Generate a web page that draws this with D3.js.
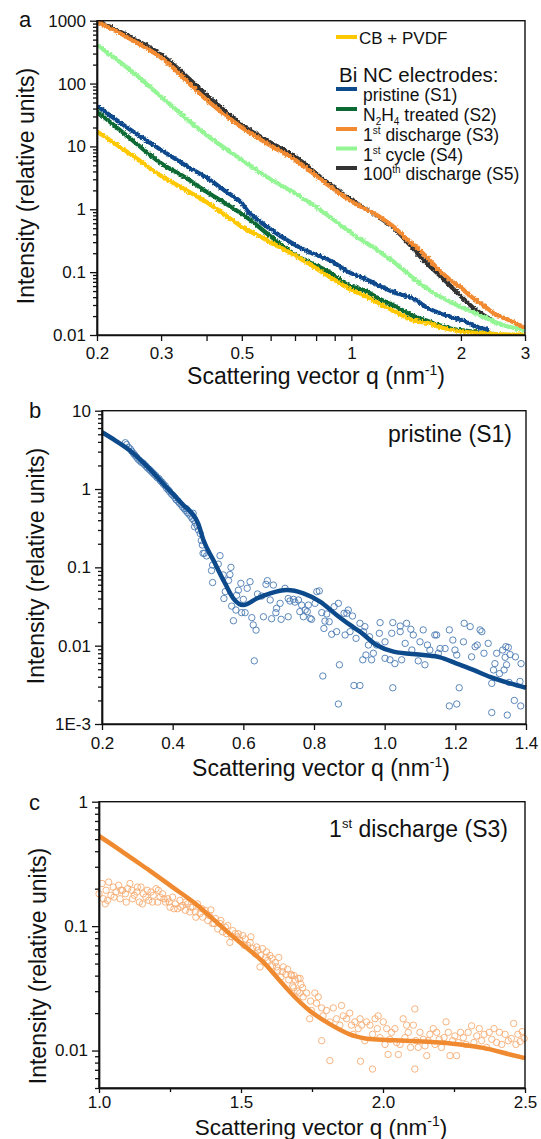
<!DOCTYPE html>
<html>
<head>
<meta charset="utf-8">
<script src="https://cdn.jsdelivr.net/npm/d3@7"></script>
<style>
body { margin: 0; background: #fff; }
svg text { font-family: "Liberation Sans", Arial, sans-serif; fill: #111; }
</style>
</head>
<body>
<svg id="chart" width="541" height="1139"></svg>
<script>
// ---- panel a: SAXS curves (q in nm^-1, intensity in relative units) ----
const qCB = [0.2,0.25,0.3,0.34,0.4,0.5,0.6,0.7,0.8,0.87,1.0,1.08,1.2,1.33,1.48,1.64,1.8,2.03,2.3,2.6,3.0];
const iCB = [17.3,7.2,3.4,2.25,1.3,0.53,0.3,0.185,0.115,0.085,0.052,0.043,0.031,0.023,0.017,0.0153,0.0128,0.0113,0.0106,0.0102,0.0101];
const qS1 = [0.2,0.25,0.3,0.35,0.41,0.45,0.5,0.52,0.55,0.6,0.65,0.71,0.78,0.87,0.99,1.08,1.2,1.33,1.48,1.64,1.8,2.03,2.2,2.4];
const iS1 = [44,17.5,8.8,5.0,2.9,1.95,1.25,0.92,0.7,0.48,0.35,0.26,0.2,0.156,0.098,0.08,0.06,0.046,0.038,0.026,0.021,0.0168,0.0138,0.0118];
const qS2 = [0.2,0.25,0.3,0.35,0.4,0.45,0.52,0.6,0.71,0.87,0.99,1.08,1.2,1.33,1.48,1.64,1.8,1.94,2.1,2.3,2.5];
const iS2 = [36,12.6,5.4,3.2,1.9,1.25,0.72,0.37,0.18,0.1,0.06,0.052,0.037,0.028,0.02,0.0163,0.0135,0.0122,0.0115,0.0108,0.0102];
const qS3 = [0.2,0.25,0.3,0.4,0.5,0.6,0.7,0.85,1.0,1.19,1.32,1.45,1.5,1.6,1.75,1.9,2.0,2.11,2.3,2.5,2.7,3.0];
const iS3 = [965,493,259,55,20,10.3,6.1,2.6,1.33,0.77,0.5,0.3,0.26,0.18,0.105,0.07,0.057,0.043,0.03,0.021,0.0175,0.013];
const qS4 = [0.2,0.25,0.3,0.4,0.5,0.6,0.7,0.85,1.0,1.19,1.32,1.41,1.5,1.68,2.0,2.3,2.6,3.0];
const iS4 = [415,154,62,15.2,6.1,3.0,1.8,0.85,0.42,0.215,0.14,0.102,0.075,0.047,0.028,0.0196,0.0145,0.012];
const qS5 = [0.2,0.25,0.3,0.4,0.5,0.6,0.7,0.85,1.0,1.19,1.32,1.45,1.57,1.68,1.8,2.03,2.2,2.3,2.45];
const iS5 = [1010,530,288,66,22,11.5,6.9,2.8,1.41,0.75,0.48,0.27,0.16,0.11,0.075,0.038,0.025,0.021,0.017];

// ---- panel b: pristine (S1) fit and measured points ----
const bFitQ = [0.2,0.24,0.283,0.33,0.377,0.425,0.472,0.487,0.515,0.548,0.572,0.6,0.638,0.676,0.723,0.77,0.817,0.864,0.902,0.93,0.977,1.025,1.109,1.157,1.204,1.251,1.298,1.355,1.4];
const bFitI = [5.3,4.1,3.0,1.9,1.12,0.66,0.365,0.223,0.124,0.0626,0.040,0.033,0.040,0.0466,0.0514,0.0466,0.0365,0.0247,0.0184,0.0151,0.0102,0.0084,0.0076,0.0071,0.0059,0.0049,0.004,0.0033,0.0029];
const bPoints = [
  [0.266,3.9],[0.270,3.7],[0.275,3.4],[0.280,3.25],[0.284,3.05],[0.289,2.85],[0.293,2.7],[0.298,2.55],[0.302,2.4],[0.307,2.3],
  [0.311,2.2],[0.316,2.15],[0.320,2.05],[0.325,1.95],[0.329,1.85],[0.334,1.78],[0.338,1.7],[0.343,1.62],[0.347,1.55],[0.352,1.48],
  [0.356,1.4],[0.361,1.36],[0.365,1.28],[0.370,1.22],[0.374,1.15],[0.379,1.1],[0.383,1.02],[0.388,0.97],[0.392,0.92],[0.397,0.86],
  [0.401,0.83],[0.406,0.78],[0.410,0.73],[0.415,0.7],[0.419,0.66],[0.424,0.63],[0.428,0.59],[0.433,0.56],[0.437,0.53],[0.439,0.56],
  [0.442,0.5],[0.446,0.48],[0.451,0.45],[0.455,0.42],[0.458,0.49],[0.460,0.4],[0.462,0.33],[0.464,0.37],[0.469,0.34],[0.473,0.3],
  [0.478,0.27],[0.481,0.22],[0.484,0.193],[0.486,0.151],[0.490,0.151],[0.496,0.140],[0.510,0.091],[0.513,0.107],[0.513,0.064],[0.529,0.110],
  [0.534,0.141],[0.543,0.080],[0.545,0.040],[0.549,0.049],[0.558,0.068],[0.562,0.081],[0.565,0.100],[0.567,0.032],[0.572,0.0208],[0.579,0.0285],
  [0.581,0.044],[0.586,0.051],[0.593,0.0625],[0.595,0.0264],[0.600,0.039],[0.605,0.0264],[0.611,0.054],[0.619,0.0656],[0.624,0.0228],[0.628,0.0184],
  [0.631,0.0064],[0.636,0.0158],[0.640,0.0457],[0.652,0.043],[0.657,0.0234],[0.664,0.0607],[0.668,0.0676],[0.676,0.0383],[0.680,0.0221],[0.685,0.0594],
  [0.692,0.0264],[0.694,0.030],[0.704,0.0347],[0.707,0.0217],[0.718,0.054],[0.727,0.040],[0.727,0.0234],[0.732,0.0372],[0.742,0.039],[0.746,0.036],
  [0.756,0.0383],[0.760,0.0272],[0.765,0.033],[0.770,0.0234],[0.775,0.0285],[0.781,0.0272],[0.784,0.033],[0.789,0.0223],[0.793,0.0217],[0.803,0.0347],
  [0.808,0.049],[0.815,0.050],[0.822,0.0264],[0.825,0.0041],[0.828,0.0166],[0.831,0.0206],[0.836,0.0254],[0.843,0.0202],[0.850,0.014],[0.857,0.0315],
  [0.864,0.0151],[0.869,0.0347],[0.869,0.0018],[0.872,0.0057],[0.885,0.0259],[0.888,0.0137],[0.893,0.0259],[0.897,0.0285],[0.902,0.0151],[0.909,0.0239],
  [0.913,0.0031],[0.919,0.0124],[0.930,0.0193],[0.930,0.0031],[0.938,0.0066],[0.940,0.0151],[0.944,0.0175],[0.947,0.0076],[0.954,0.0102],[0.957,0.013],
  [0.963,0.0066],[0.968,0.008],[0.977,0.0102],[0.985,0.0144],[0.987,0.0197],[1.001,0.0112],[1.001,0.0069],[1.015,0.0066],[1.020,0.0144],[1.023,0.0197],
  [1.023,0.0029],[1.029,0.0059],[1.044,0.0178],[1.044,0.0151],[1.048,0.0066],[1.058,0.0107],[1.062,0.0193],[1.074,0.0162],[1.077,0.0088],[1.081,0.0137],
  [1.095,0.0064],[1.100,0.0112],[1.109,0.0159],[1.114,0.0057],[1.121,0.0102],[1.128,0.0088],[1.142,0.0137],[1.147,0.0137],[1.152,0.008],[1.157,0.0092],
  [1.171,0.0092],[1.183,0.0159],[1.183,0.0017],[1.193,0.0118],[1.199,0.0088],[1.204,0.0076],[1.204,0.0018],[1.211,0.0029],[1.223,0.0112],[1.225,0.0193],
  [1.242,0.0175],[1.246,0.0072],[1.256,0.0097],[1.262,0.0102],[1.270,0.0159],[1.275,0.0151],[1.281,0.008],[1.293,0.0107],[1.303,0.0033],[1.303,0.0014],
  [1.308,0.0049],[1.312,0.0059],[1.317,0.008],[1.325,0.0044],[1.334,0.0088],[1.338,0.0049],[1.341,0.0071],[1.343,0.0097],[1.345,0.0057],[1.347,0.0013],
  [1.350,0.0095],[1.352,0.0034],[1.355,0.0077],[1.367,0.002],[1.370,0.0072],[1.383,0.0035],[1.385,0.0017],[1.386,0.0059]
];

// ---- panel c: 1st discharge (S3) fit and measured points ----
const cFitQ = [1.0,1.06,1.12,1.177,1.26,1.342,1.40,1.459,1.52,1.576,1.63,1.67,1.742,1.813,1.883,1.966,2.083,2.2,2.283,2.353,2.447,2.5];
const cFitI = [0.53,0.43,0.345,0.281,0.205,0.150,0.115,0.087,0.067,0.052,0.038,0.030,0.0209,0.0163,0.0135,0.0123,0.012,0.0116,0.0111,0.0105,0.0093,0.0087];
const cPoints = [
  [1.0,0.182],[1.011,0.22],[1.015,0.166],[1.022,0.151],[1.025,0.194],[1.03,0.161],[1.034,0.226],[1.042,0.177],[1.05,0.206],[1.053,0.171],
  [1.06,0.188],[1.069,0.213],[1.074,0.166],[1.077,0.194],[1.083,0.194],[1.093,0.182],[1.096,0.156],[1.101,0.2],[1.109,0.22],[1.116,0.194],
  [1.118,0.166],[1.124,0.177],[1.133,0.188],[1.135,0.206],[1.142,0.156],[1.148,0.206],[1.153,0.151],[1.156,0.182],[1.165,0.171],[1.17,0.194],
  [1.175,0.161],[1.183,0.188],[1.188,0.156],[1.191,0.177],[1.201,0.2],[1.207,0.156],[1.209,0.194],[1.215,0.171],[1.224,0.182],[1.229,0.166],
  [1.234,0.156],[1.242,0.166],[1.247,0.156],[1.25,0.142],[1.259,0.171],[1.264,0.138],[1.269,0.151],[1.277,0.138],[1.285,0.161],[1.288,0.142],
  [1.295,0.147],[1.304,0.134],[1.305,0.156],[1.312,0.151],[1.32,0.13],[1.323,0.142],[1.33,0.142],[1.339,0.13],[1.341,0.118],[1.347,0.151],
  [1.356,0.126],[1.362,0.138],[1.365,0.118],[1.374,0.134],[1.383,0.111],[1.388,0.122],[1.394,0.135],[1.4,0.105],[1.405,0.105],[1.41,0.115],
  [1.418,0.095],[1.426,0.105],[1.429,0.111],[1.435,0.09],[1.445,0.098],[1.449,0.087],[1.453,0.101],[1.461,0.074],[1.468,0.082],[1.471,0.092],
  [1.48,0.087],[1.488,0.082],[1.491,0.087],[1.496,0.077],[1.506,0.084],[1.511,0.07],[1.515,0.079],[1.523,0.07],[1.532,0.074],[1.535,0.082],
  [1.541,0.066],[1.55,0.06],[1.555,0.068],[1.559,0.064],[1.567,0.047],[1.57,0.058],[1.576,0.066],[1.586,0.056],[1.59,0.062],[1.594,0.053],
  [1.602,0.058],[1.609,0.055],[1.611,0.048],[1.621,0.051],[1.625,0.047],[1.629,0.044],[1.633,0.056],[1.641,0.039],[1.646,0.043],[1.649,0.047],
  [1.658,0.041],[1.664,0.045],[1.668,0.037],[1.676,0.041],[1.678,0.040],[1.682,0.033],[1.686,0.032],[1.687,0.040],[1.691,0.037],[1.699,0.030],
  [1.701,0.038],[1.707,0.029],[1.708,0.038],[1.711,0.034],[1.717,0.032],[1.719,0.027],[1.731,0.029],[1.742,0.018],[1.745,0.025],[1.748,0.021],
  [1.76,0.029],[1.766,0.024],[1.772,0.027],[1.784,0.022],[1.784,0.012],[1.789,0.019],[1.801,0.021],[1.813,0.017],[1.813,0.0083],[1.825,0.022],
  [1.836,0.018],[1.848,0.016],[1.854,0.023],[1.86,0.019],[1.872,0.018],[1.883,0.02],[1.889,0.016],[1.895,0.0135],[1.901,0.017],[1.913,0.015],
  [1.919,0.018],[1.921,0.0082],[1.925,0.016],[1.936,0.012],[1.942,0.017],[1.954,0.016],[1.963,0.0135],[1.963,0.0071],[1.972,0.018],[1.98,0.015],
  [1.983,0.019],[1.989,0.0127],[2.001,0.017],[2.007,0.0112],[2.013,0.015],[2.018,0.0093],[2.024,0.0123],[2.03,0.014],[2.042,0.015],[2.048,0.0116],
  [2.054,0.0093],[2.06,0.0112],[2.071,0.018],[2.077,0.0127],[2.083,0.016],[2.089,0.014],[2.097,0.0106],[2.107,0.016],[2.112,0.0216],[2.112,0.0071],
  [2.116,0.012],[2.124,0.0106],[2.13,0.014],[2.142,0.0123],[2.148,0.0109],[2.154,0.0091],[2.159,0.012],[2.165,0.0135],[2.177,0.015],[2.183,0.0112],
  [2.189,0.014],[2.198,0.0123],[2.206,0.0106],[2.215,0.0127],[2.222,0.017],[2.23,0.014],[2.236,0.0091],[2.245,0.012],[2.253,0.0131],[2.259,0.0091],
  [2.265,0.0116],[2.273,0.014],[2.283,0.0127],[2.292,0.0112],[2.3,0.014],[2.312,0.0158],[2.32,0.0116],[2.33,0.0131],[2.339,0.015],[2.347,0.012],
  [2.356,0.0135],[2.365,0.0106],[2.374,0.014],[2.383,0.0123],[2.391,0.015],[2.4,0.0116],[2.41,0.014],[2.418,0.0112],[2.43,0.0135],[2.441,0.012],
  [2.452,0.0125],[2.46,0.0165],[2.468,0.0112],[2.475,0.0135],[2.483,0.0118],[2.49,0.0142],[2.497,0.0125]
];

// axis tick labels
const aYTicks = [0.01,0.1,1,10,100,1000];
const aYLabels = ["0.01","0.1","1","10","100","1000"];
const aXTicks = [0.2,0.3,0.4,0.5,0.6,0.7,0.8,0.9,1,2,3];
const aXLabeled = [0.2,0.3,0.5,1,2,3];
const bYTicks = [0.001,0.01,0.1,1,10];
const bYLabels = ["1E-3","0.01","0.1","1","10"];
const bXTicks = [0.2,0.4,0.6,0.8,1.0,1.2,1.4];
const cYTicks = [0.01,0.1,1];
const cYLabels = ["0.01","0.1","1"];
const cXTicks = [1.0,1.5,2.0,2.5];
const cXMinor = [1.25,1.75,2.25];

const svg = d3.select("#chart");
const defs = svg.append("defs");

// slight jitter texture for the measured curves of panel a
const rough = defs.append("filter").attr("id", "rough")
    .attr("filterUnits", "userSpaceOnUse")
    .attr("x", 0).attr("y", 0).attr("width", 541).attr("height", 400);
rough.append("feTurbulence").attr("type", "fractalNoise")
    .attr("baseFrequency", 0.45).attr("numOctaves", 2).attr("seed", 4).attr("result", "n");
rough.append("feDisplacementMap").attr("in", "SourceGraphic").attr("in2", "n")
    .attr("scale", 3.5).attr("xChannelSelector", "R").attr("yChannelSelector", "G");

function styleAxis(g, fontSize) {
    g.select(".domain").attr("stroke", "#111").attr("stroke-width", 1.4);
    g.selectAll(".tick line").attr("stroke", "#111").attr("stroke-width", 1.3);
    g.selectAll(".tick text").style("font-size", fontSize + "px").attr("fill", "#111")
        .style("font-family", '"Liberation Sans", Arial, sans-serif');
}

function box(x, y, w, h) {
    svg.append("rect").attr("x", x).attr("y", y).attr("width", w).attr("height", h)
        .attr("fill", "none").attr("stroke", "#111").attr("stroke-width", 1.4);
}

function logMinors(scale, majors) {
    return scale.ticks().filter(t => !majors.some(m => Math.abs(m - t) / m < 1e-6));
}

function yAxes(scale, x0, majors, labels) {
    const gMin = svg.append("g").attr("transform", "translate(" + x0 + ",0)")
        .call(d3.axisLeft(scale).tickValues(logMinors(scale, majors)).tickFormat("").tickSize(4).tickSizeOuter(0));
    styleAxis(gMin, 17);
    const g = svg.append("g").attr("transform", "translate(" + x0 + ",0)")
        .call(d3.axisLeft(scale).tickValues(majors).tickFormat((d, i) => labels[i]).tickSize(7).tickPadding(4).tickSizeOuter(0));
    styleAxis(g, 17);
}

function yTitle(cx, cy) {
    svg.append("text").attr("transform", "translate(" + cx + "," + cy + ") rotate(-90)")
        .attr("text-anchor", "middle").attr("dy", "0.33em")
        .style("font-size", "23px").text("Intensity (relative units)");
}

function xTitle(cx, baseline, size) {
    const t = svg.append("text").attr("x", cx).attr("y", baseline)
        .attr("text-anchor", "middle").style("font-size", size + "px");
    t.append("tspan").text("Scattering vector q (nm");
    t.append("tspan").attr("dy", -9).style("font-size", "14px").text("-1");
    t.append("tspan").attr("dy", 9).text(")");
}

function panelLetter(x, y, s) {
    svg.append("text").attr("x", x).attr("y", y).style("font-size", "22px").text(s);
}

// ================= panel a =================
const ax = d3.scaleLog().domain([0.2, 3]).range([97, 525]);
const ay = d3.scaleLog().domain([0.01, 1000]).range([335, 20.7]);

defs.append("clipPath").attr("id", "clipA").append("rect")
    .attr("x", 97).attr("y", 20.7).attr("width", 428).attr("height", 314.3);

const seriesA = [
    {q: qS5, i: iS5, color: "#333333"},
    {q: qS1, i: iS1, color: "#0c4a8c"},
    {q: qS2, i: iS2, color: "#0b6a34"},
    {q: qCB, i: iCB, color: "#ffc800"},
    {q: qS4, i: iS4, color: "#93f593"},
    {q: qS3, i: iS3, color: "#f28a30"}
];

const lineA = d3.line().x(d => ax(d[0])).y(d => ay(d[1])).curve(d3.curveMonotoneX);
const curvesA = svg.append("g").attr("clip-path", "url(#clipA)")
    .append("g").attr("filter", "url(#rough)");
curvesA.selectAll("path").data(seriesA).join("path")
    .attr("d", s => lineA(d3.zip(s.q, s.i)))
    .attr("fill", "none").attr("stroke", s => s.color)
    .attr("stroke-width", 4.3).attr("stroke-linejoin", "round");

box(97, 20.7, 428, 314.3);
yAxes(ay, 97, aYTicks, aYLabels);
const gax = svg.append("g").attr("transform", "translate(0,335)")
    .call(d3.axisBottom(ax).tickValues(aXTicks)
        .tickFormat(d => aXLabeled.includes(d) ? String(d) : "")
        .tickSize(6).tickPadding(6).tickSizeOuter(0));
styleAxis(gax, 17);

// legend
const legendA = svg.append("g");
legendA.append("line").attr("x1", 336).attr("x2", 357).attr("y1", 37).attr("y2", 37)
    .attr("stroke", "#ffc800").attr("stroke-width", 4);
legendA.append("text").attr("x", 359).attr("y", 44).style("font-size", "17px").text("CB + PVDF");
legendA.append("text").attr("x", 339).attr("y", 82).style("font-size", "20.5px").text("Bi NC electrodes:");

const legendRows = [
    {color: "#0c4a8c", y: 89},
    {color: "#0b6a34", y: 109},
    {color: "#f28a30", y: 129},
    {color: "#93f593", y: 148.5},
    {color: "#333333", y: 168}
];
legendA.selectAll("line.row").data(legendRows).join("line").attr("class", "row")
    .attr("x1", 336).attr("x2", 357).attr("y1", d => d.y).attr("y2", d => d.y)
    .attr("stroke", d => d.color).attr("stroke-width", 4);

function legendText(y) {
    return legendA.append("text").attr("x", 363).attr("y", y + 12).style("font-size", "17.5px");
}
legendText(89).text("pristine (S1)");
let t2 = legendText(109);
t2.append("tspan").text("N");
t2.append("tspan").attr("dy", 4).style("font-size", "10px").text("2");
t2.append("tspan").attr("dy", -4).text("H");
t2.append("tspan").attr("dy", 4).style("font-size", "10px").text("4");
t2.append("tspan").attr("dy", -4).text(" treated (S2)");
let t3 = legendText(129);
t3.append("tspan").text("1");
t3.append("tspan").attr("dy", -7).style("font-size", "10px").text("st");
t3.append("tspan").attr("dy", 7).text(" discharge (S3)");
let t4 = legendText(148.5);
t4.append("tspan").text("1");
t4.append("tspan").attr("dy", -7).style("font-size", "10px").text("st");
t4.append("tspan").attr("dy", 7).text(" cycle (S4)");
let t5 = legendText(168);
t5.append("tspan").text("100");
t5.append("tspan").attr("dy", -7).style("font-size", "10px").text("th");
t5.append("tspan").attr("dy", 7).text(" discharge (S5)");

panelLetter(19, 27, "a");
yTitle(26, 186);
xTitle(316, 384, 23);

// ================= panel b =================
const bx = d3.scaleLinear().domain([0.2, 1.4]).range([102, 526]);
const by = d3.scaleLog().domain([0.001, 10]).range([724, 410.7]);

svg.append("g").selectAll("circle").data(bPoints).join("circle")
    .attr("cx", d => bx(d[0])).attr("cy", d => by(d[1])).attr("r", 3.2)
    .attr("fill", "none").attr("stroke", "#4a7bb3").attr("stroke-width", 0.9);

svg.append("path").datum(d3.zip(bFitQ, bFitI))
    .attr("d", d3.line().x(d => bx(d[0])).y(d => by(d[1])).curve(d3.curveMonotoneX))
    .attr("fill", "none").attr("stroke", "#0c4a8c").attr("stroke-width", 4.5);

box(102, 410.7, 424, 313.3);
yAxes(by, 102, bYTicks, bYLabels);
const gbx = svg.append("g").attr("transform", "translate(0,724)")
    .call(d3.axisBottom(bx).tickValues(bXTicks).tickFormat(d3.format(".1f"))
        .tickSize(6).tickPadding(7).tickSizeOuter(0));
styleAxis(gbx, 17);

svg.append("text").attr("x", 512).attr("y", 442).attr("text-anchor", "end")
    .style("font-size", "23px").text("pristine (S1)");
panelLetter(29, 418, "b");
yTitle(36, 566);
xTitle(321, 776, 23);

// ================= panel c =================
const cx = d3.scaleLinear().domain([1.0, 2.5]).range([99, 525]);
const cy = d3.scaleLog().domain([0.005, 1]).range([1088, 801.7]);

svg.append("g").selectAll("circle").data(cPoints).join("circle")
    .attr("cx", d => cx(d[0])).attr("cy", d => cy(d[1])).attr("r", 3.2)
    .attr("fill", "none").attr("stroke", "#f6ab72").attr("stroke-width", 0.9);

svg.append("path").datum(d3.zip(cFitQ, cFitI))
    .attr("d", d3.line().x(d => cx(d[0])).y(d => cy(d[1])).curve(d3.curveMonotoneX))
    .attr("fill", "none").attr("stroke", "#f08a30").attr("stroke-width", 4.5);

box(99, 801.7, 426, 286.3);
yAxes(cy, 99, cYTicks, cYLabels);
const gcxMin = svg.append("g").attr("transform", "translate(0,1088)")
    .call(d3.axisBottom(cx).tickValues(cXMinor).tickFormat("").tickSize(4).tickSizeOuter(0));
styleAxis(gcxMin, 17);
const gcx = svg.append("g").attr("transform", "translate(0,1088)")
    .call(d3.axisBottom(cx).tickValues(cXTicks).tickFormat(d3.format(".1f"))
        .tickSize(5).tickPadding(3).tickSizeOuter(0));
styleAxis(gcx, 17);

const lab = svg.append("text").attr("x", 508).attr("y", 837).attr("text-anchor", "end")
    .style("font-size", "23px");
lab.append("tspan").text("1");
lab.append("tspan").attr("dy", -9).style("font-size", "13px").text("st");
lab.append("tspan").attr("dy", 9).text(" discharge (S3)");
panelLetter(29, 810, "c");
yTitle(38, 966);
xTitle(321, 1135, 22.5);
</script>
</body>
</html>
